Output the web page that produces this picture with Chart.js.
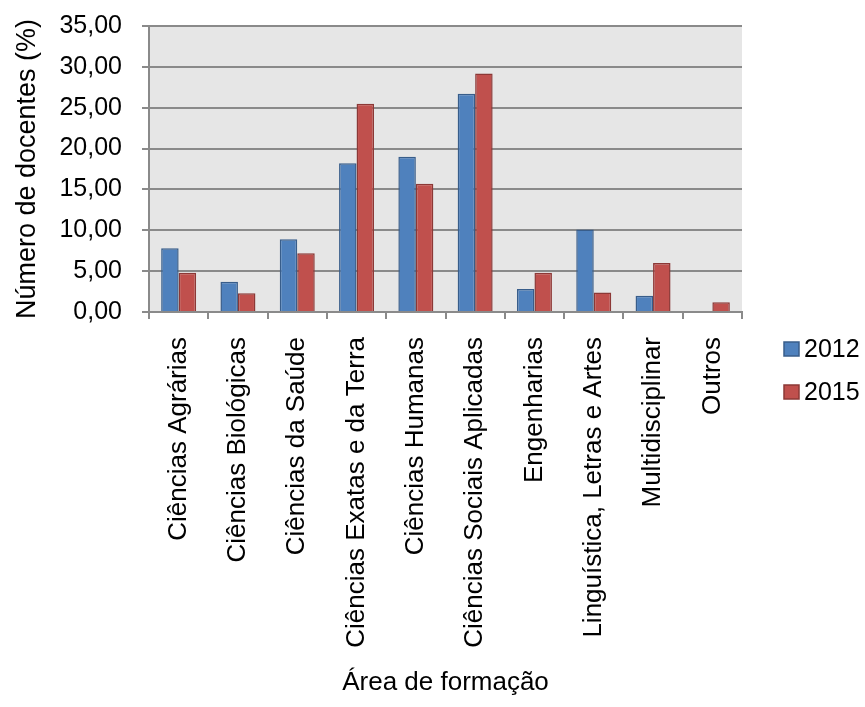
<!DOCTYPE html>
<html lang="pt">
<head>
<meta charset="utf-8">
<title>Número de docentes por área de formação</title>
<script src="https://cdn.jsdelivr.net/npm/chart.js@4/dist/chart.umd.min.js"></script>
<style>
  html, body { margin: 0; padding: 0; background: #ffffff; }
  #wrap { width: 865px; height: 707px; }
</style>
</head>
<body>
<div id="wrap"><canvas id="chart" width="865" height="707"></canvas></div>
<script>
// Áreas de formação (eixo horizontal)
const categories = [
  'Ciências Agrárias',
  'Ciências Biológicas',
  'Ciências da Saúde',
  'Ciências Exatas e da Terra',
  'Ciências Humanas',
  'Ciências Sociais Aplicadas',
  'Engenharias',
  'Linguística, Letras e Artes',
  'Multidisciplinar',
  'Outros'
];

// Percentual de docentes por ano
const years = ['2012', '2015'];
const values2012 = [7.8, 3.7, 8.9, 18.2, 19.0, 26.7, 2.8, 10.1, 2.0, 0];
const values2015 = [4.8, 2.3, 7.2, 25.5, 15.7, 29.2, 4.8, 2.4, 6.0, 1.2];

// Escala vertical
const yMin = 0;
const yMax = 35;
const yStep = 5;

const FONT = '"Liberation Sans", Arial, sans-serif';
const GRID = '#8a8a8a';

// Fundo cinza da área de plotagem
const plotBackground = {
  id: 'plotBackground',
  beforeDraw(chart) {
    const { ctx, chartArea: a } = chart;
    ctx.save();
    ctx.fillStyle = '#e6e6e6';
    ctx.fillRect(a.left, a.top, a.right - a.left, a.bottom - a.top);
    ctx.restore();
  }
};

// Legenda à direita, com quadrados coloridos
const sideLegend = {
  id: 'sideLegend',
  afterDraw(chart) {
    const { ctx } = chart;
    const boxX = 784, boxW = 15, boxH = 14, textX = 804;
    const rows = [349, 392];
    ctx.save();
    ctx.font = '25px ' + FONT;
    ctx.textBaseline = 'middle';
    ctx.textAlign = 'left';
    chart.data.datasets.forEach((ds, i) => {
      const cy = rows[i];
      ctx.fillStyle = ds.backgroundColor;
      ctx.fillRect(boxX, cy - boxH / 2, boxW, boxH);
      ctx.strokeStyle = ds.borderColor;
      ctx.lineWidth = 1.5;
      ctx.strokeRect(boxX, cy - boxH / 2, boxW, boxH);
      ctx.fillStyle = '#000000';
      ctx.fillText(ds.label, textX, cy + 1);
    });
    ctx.restore();
  }
};

new Chart(document.getElementById('chart'), {
  type: 'bar',
  data: {
    labels: categories,
    datasets: [
      {
        label: years[0],
        data: values2012,
        backgroundColor: '#4f81bd',
        borderColor: '#385d8a',
        borderWidth: 1.5,
        categoryPercentage: 0.59,
        barPercentage: 1.0
      },
      {
        label: years[1],
        data: values2015,
        backgroundColor: '#c0504d',
        borderColor: '#8c3836',
        borderWidth: 1.5,
        categoryPercentage: 0.59,
        barPercentage: 1.0
      }
    ]
  },
  options: {
    responsive: false,
    animation: false,
    layout: { padding: { left: 0, top: 26, right: 123, bottom: 0 } },
    plugins: {
      legend: { display: false },
      tooltip: { enabled: false }
    },
    scales: {
      x: {
        grid: {
          display: true,
          offset: true,
          drawOnChartArea: false,
          drawTicks: true,
          tickLength: 7,
          color: GRID,
          lineWidth: 2
        },
        border: { display: true, color: GRID, width: 2 },
        ticks: {
          autoSkip: false,
          minRotation: 90,
          maxRotation: 90,
          padding: 18,
          color: '#000000',
          font: { family: FONT, size: 26 }
        },
        title: {
          display: true,
          text: 'Área de formação',
          color: '#000000',
          font: { family: FONT, size: 26 },
          padding: { top: 0, bottom: 9 }
        },
        afterFit(scale) {
          scale.height = 395;
          scale.paddingTop = 0;
          scale.paddingBottom = 0;
        }
      },
      y: {
        min: yMin,
        max: yMax,
        grid: {
          color: GRID,
          lineWidth: 2,
          drawTicks: true,
          tickLength: 7
        },
        border: { display: true, color: GRID, width: 2 },
        ticks: {
          stepSize: yStep,
          padding: 20,
          color: '#000000',
          font: { family: FONT, size: 25 },
          callback: (v) => Number(v).toFixed(2).replace('.', ',')
        },
        title: {
          display: true,
          text: 'Número de docentes (%)',
          color: '#000000',
          font: { family: FONT, size: 27 },
          padding: { top: 11, bottom: 0 }
        },
        afterFit(scale) {
          scale.width = 149;
          scale.paddingTop = 0;
          scale.paddingBottom = 0;
        }
      }
    }
  },
  plugins: [plotBackground, sideLegend]
});
</script>
</body>
</html>
